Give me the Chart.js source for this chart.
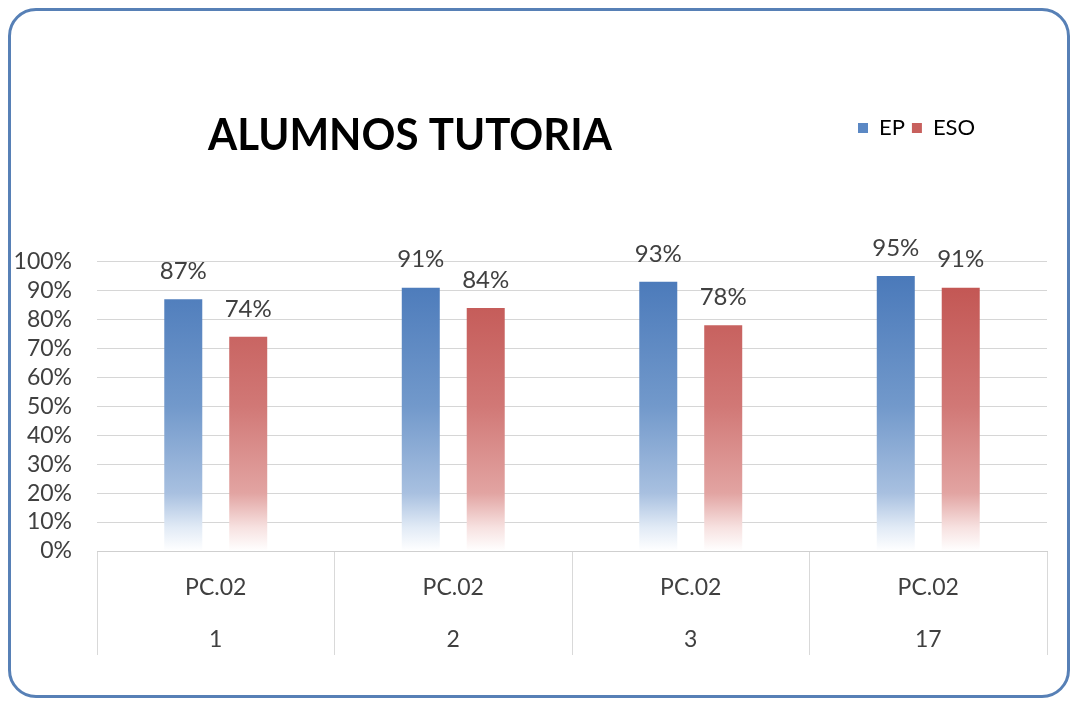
<!DOCTYPE html>
<html>
<head>
<meta charset="utf-8">
<script src="https://cdn.jsdelivr.net/npm/chart.js@4.4.1/dist/chart.umd.min.js"></script>
<style>
  html, body { margin: 0; padding: 0; background: #fff; }
  body { width: 1077px; height: 704px; position: relative; overflow: hidden; }
  #frame {
    position: absolute; left: 8px; top: 8px; width: 1062px; height: 690px;
    border: 3px solid #5780b6; border-radius: 28px; box-sizing: border-box;
  }
  #wrap { position: absolute; left: 0; top: 0; width: 1077px; height: 704px; }
</style>
</head>
<body>
<div id="frame"></div>
<div id="wrap"><canvas id="chart"></canvas></div>
<script>
const categories = [['PC.02', '1'], ['PC.02', '2'], ['PC.02', '3'], ['PC.02', '17']];
const seriesNames = ['EP', 'ESO'];
const epValues = [87, 91, 93, 95];
const esoValues = [74, 84, 78, 91];
const chartTitle = 'ALUMNOS TUTORIA';

const textColor = '#404040';
Chart.defaults.font.family = 'Lato, "Open Sans", sans-serif';
Chart.defaults.color = textColor;

// bars fade to white towards the baseline
function fade(stops) {
  return (ctx) => {
    const chart = ctx.chart;
    if (!chart.chartArea) {
      return stops[stops.length - 1][1];
    }
    const y = chart.scales.y;
    const g = chart.ctx.createLinearGradient(0, y.getPixelForValue(0), 0, y.getPixelForValue(100));
    stops.forEach(([offset, color]) => g.addColorStop(offset, color));
    return g;
  };
}

const blueStops = [[0, '#ffffff'], [0.08, '#e2ebf6'], [0.2, '#a8c0e0'], [0.5, '#7299cb'], [1, '#4676b8']];
const redStops = [[0, '#ffffff'], [0.08, '#f7e2e1'], [0.2, '#e2a4a2'], [0.5, '#d17876'], [1, '#c0504d']];
const legendColors = ['#5b88c4', '#c8605d'];

// title and legend sit on one row, as in the original
const placeHeader = {
  id: 'placeHeader',
  afterLayout(chart) {
    const t = chart.titleBlock;
    if (t) {
      t.left = 208; t.right = 612; t.top = 110; t.bottom = 162;
    }
    const l = chart.legend;
    if (l) {
      l.left = 851; l.right = 1000; l.top = 110; l.bottom = 152;
    }
  }
};

const valueLabels = {
  id: 'valueLabels',
  afterDatasetsDraw(chart) {
    const ctx = chart.ctx;
    ctx.save();
    ctx.font = '24px Lato, "Open Sans", sans-serif';
    ctx.fillStyle = textColor;
    ctx.textAlign = 'center';
    ctx.textBaseline = 'bottom';
    chart.data.datasets.forEach((dataset, i) => {
      chart.getDatasetMeta(i).data.forEach((bar, j) => {
        ctx.fillText(dataset.data[j] + '%', bar.x, bar.y - 16);
      });
    });
    ctx.restore();
  }
};

new Chart(document.getElementById('chart'), {
  type: 'bar',
  data: {
    labels: categories,
    datasets: [
      {
        label: seriesNames[0],
        data: epValues,
        backgroundColor: fade(blueStops),
        categoryPercentage: 0.547,
        barPercentage: 0.585
      },
      {
        label: seriesNames[1],
        data: esoValues,
        backgroundColor: fade(redStops),
        categoryPercentage: 0.547,
        barPercentage: 0.585
      }
    ]
  },
  options: {
    responsive: true,
    maintainAspectRatio: false,
    animation: false,
    layout: { padding: { top: 171, left: 12, right: 30, bottom: 38 } },
    plugins: {
      title: {
        display: true,
        text: chartTitle,
        color: '#000',
        font: { size: 43, weight: 'bold' },
        padding: 0
      },
      legend: {
        position: 'top',
        align: 'start',
        labels: {
          boxWidth: 10,
          boxHeight: 10,
          padding: 7,
          font: { size: 22 },
          color: textColor,
          generateLabels: (chart) => chart.data.datasets.map((ds, i) => ({
            text: ds.label,
            fillStyle: legendColors[i],
            strokeStyle: legendColors[i],
            lineWidth: 0,
            datasetIndex: i
          }))
        }
      },
      tooltip: { enabled: false }
    },
    scales: {
      x: {
        grid: {
          offset: true,
          drawOnChartArea: false,
          drawTicks: true,
          tickLength: 104,
          color: '#d9d9d9'
        },
        border: { display: true, color: '#cfcfcf' },
        ticks: {
          padding: -93,
          font: { size: 23, lineHeight: 2.26 },
          color: textColor,
          maxRotation: 0
        },
        afterFit: (scale) => { scale.height = 115; }
      },
      y: {
        min: 0,
        max: 100,
        grid: { color: '#d6d6d6', drawTicks: false },
        border: { display: false },
        ticks: {
          stepSize: 10,
          autoSkip: false,
          padding: 25,
          font: { size: 23 },
          color: textColor,
          callback: (v) => v + '%'
        },
        afterFit: (scale) => { scale.width = 85; }
      }
    }
  },
  plugins: [placeHeader, valueLabels]
});
</script>
</body>
</html>
